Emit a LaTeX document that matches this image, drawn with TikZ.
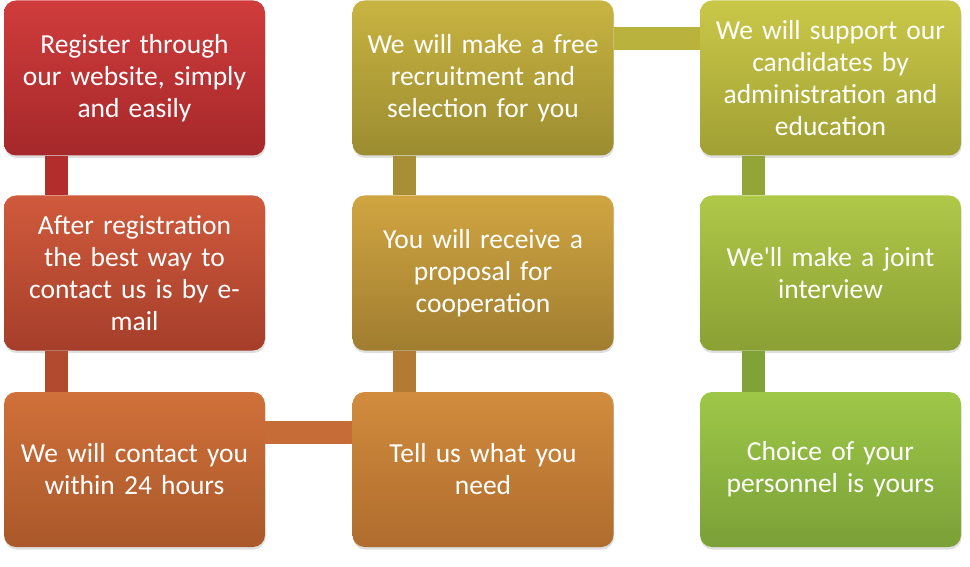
\documentclass[tikz,border=0pt]{standalone}
\usepackage{fontspec}
\setmainfont{Carlito}[Ligatures=TeXOff]
\usetikzlibrary{shadows}
\definecolor{aT}{RGB}{208,60,60}\definecolor{aB}{RGB}{165,40,42}
\definecolor{bT}{RGB}{208,90,60}\definecolor{bB}{RGB}{165,62,42}
\definecolor{cT}{RGB}{208,112,58}\definecolor{cB}{RGB}{170,88,42}
\definecolor{dT}{RGB}{210,140,62}\definecolor{dB}{RGB}{175,108,45}
\definecolor{eT}{RGB}{208,165,65}\definecolor{eB}{RGB}{160,125,48}
\definecolor{fT}{RGB}{200,180,65}\definecolor{fB}{RGB}{155,140,48}
\definecolor{gT}{RGB}{202,200,72}\definecolor{gB}{RGB}{160,160,52}
\definecolor{hT}{RGB}{175,200,72}\definecolor{hB}{RGB}{138,160,52}
\definecolor{iT}{RGB}{158,200,72}\definecolor{iB}{RGB}{122,160,55}
\definecolor{kab}{RGB}{180,45,45}
\definecolor{kbc}{RGB}{178,75,45}
\definecolor{kcd}{RGB}{198,108,55}
\definecolor{kde}{RGB}{178,122,50}
\definecolor{kef}{RGB}{168,142,52}
\definecolor{kfg}{RGB}{185,178,60}
\definecolor{kgh}{RGB}{148,165,55}
\definecolor{khi}{RGB}{128,162,55}
\begin{document}
\begin{tikzpicture}[x=1pt,y=-1pt,
  box/.style={rounded corners=12pt, minimum width=261pt, minimum height=155pt,
    text width=250pt, align=center, text=white, inner sep=0pt,
    font=\fontsize{27.5}{32}\selectfont,
    drop shadow={shadow xshift=0.5pt, shadow yshift=-2.5pt, opacity=0.25}},
  link/.style={line width=23pt}]
\useasboundingbox (0,0) rectangle (970,567);
\node[box, top color=aT, bottom color=aB] (a) at (134.5,78) {Register through\\our website, simply\\and easily};
\node[box, top color=bT, bottom color=bB] (b) at (134.5,273) {After registration\\the best way to\\contact us is by e-\\mail};
\node[box, top color=cT, bottom color=cB] (c) at (134.5,469.5) {We will contact you\\within 24 hours};
\node[box, top color=dT, bottom color=dB] (d) at (483,469.5) {Tell us what you\\need};
\node[box, top color=eT, bottom color=eB] (e) at (483,273) {You will receive a\\proposal for\\cooperation};
\node[box, top color=fT, bottom color=fB] (f) at (483,78) {We will make a free\\recruitment and\\selection for you};
\node[box, top color=gT, bottom color=gB] (g) at (830.5,78) {We will support our\\candidates by\\administration and\\education};
\node[box, top color=hT, bottom color=hB] (h) at (830.5,273) {We'll make a joint\\interview};
\node[box, top color=iT, bottom color=iB] (i) at (830.5,469.5) {Choice of your\\personnel is yours};
\draw[link, kab] ([xshift=53pt]a.south west) -- ([xshift=53pt]b.north west);
\draw[link, kbc] ([xshift=53pt]b.south west) -- ([xshift=53pt]c.north west);
\draw[link, kcd] ([yshift=-41pt]c.north east) -- ([yshift=-41pt]d.north west);
\draw[link, kde] ([xshift=52pt]d.north west) -- ([xshift=52pt]e.south west);
\draw[link, kef] ([xshift=52pt]e.north west) -- ([xshift=52pt]f.south west);
\draw[link, kfg] ([yshift=-38.5pt]f.north east) -- ([yshift=-38.5pt]g.north west);
\draw[link, kgh] ([xshift=54pt]g.south west) -- ([xshift=54pt]h.north west);
\draw[link, khi] ([xshift=54pt]h.south west) -- ([xshift=54pt]i.north west);
\end{tikzpicture}
\end{document}
